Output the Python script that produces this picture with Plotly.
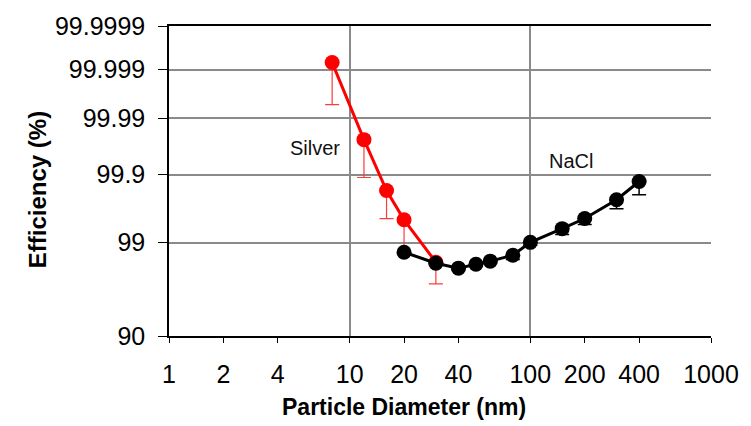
from statistics import NormalDist
import plotly.graph_objects as go

# ---- data (efficiency in %) ----
silver_d = [8, 12, 16, 20, 30]
silver_eff = [99.9993, 99.975, 99.82, 99.51, 98.25]
silver_low = [99.9946, 99.888, 99.53, 98.65, 96.9]

nacl_d = [20, 30, 40, 50, 60, 80, 100, 150, 200, 300, 400]
nacl_eff = [98.68, 98.20, 97.94, 98.15, 98.30, 98.56, 99.01, 99.35, 99.53, 99.75, 99.87]
nacl_low = [98.60, 98.12, 97.86, 98.07, 98.22, 98.38, 98.92, 99.22, 99.43, 99.66, 99.79]

x_ticks = [1, 2, 4, 10, 20, 40, 100, 200, 400, 1000]
y_ticks = [90, 99, 99.9, 99.99, 99.999, 99.9999]
y_ticktext = ["90", "99", "99.9", "99.99", "99.999", "99.9999"]

nd = NormalDist()


def probit(v):
    return nd.inv_cdf(v / 100.0)


def series(d, eff, low, color, ecolor, ethick):
    y = [probit(e) for e in eff]
    lo = [probit(e) - probit(l) for e, l in zip(eff, low)]
    return go.Scatter(
        x=d, y=y, mode="lines+markers",
        line=dict(color=color, width=3),
        marker=dict(color=color, size=15),
        error_y=dict(type="data", symmetric=False, array=[0] * len(d),
                     arrayminus=lo, color=ecolor, thickness=ethick, width=7),
        showlegend=False,
    )


fig = go.Figure()
fig.add_trace(series(silver_d, silver_eff, silver_low, "#ff0000", "#ff3a3a", 1.2))
fig.add_trace(series(nacl_d, nacl_eff, nacl_low, "#000000", "#000000", 1.5))

font = "Liberation Sans, Arial, sans-serif"

fig.update_layout(
    width=751, height=426,
    margin=dict(l=169, r=37, t=20, b=90),
    paper_bgcolor="white", plot_bgcolor="white",
    font=dict(family=font, size=25, color="#000"),
    xaxis=dict(
        type="log", range=[0, 3],
        tickvals=x_ticks, ticktext=[str(v) for v in x_ticks],
        showgrid=False, showline=True, linecolor="#000", linewidth=1.5,
        mirror=True, ticks="outside", ticklen=5, tickcolor="#000",
        ticklabelstandoff=10,
        minor=dict(tickvals=[10, 100, 1000], showgrid=True,
                   gridcolor="#8a8a8a", gridwidth=1.5, ticks=""),
        zeroline=False,
    ),
    yaxis=dict(
        range=[probit(90), probit(99.9999)],
        tickvals=[probit(v) for v in y_ticks], ticktext=y_ticktext,
        showgrid=True, gridcolor="#8a8a8a", gridwidth=1.5,
        showline=True, linecolor="#000", linewidth=1.5,
        ticks="outside", ticklen=9, tickcolor="#000",
        ticklabelstandoff=8, zeroline=False,
    ),
    annotations=[
        dict(text="Silver", xref="paper", yref="paper", x=0.269, y=0.606,
             xanchor="center", yanchor="middle",
             showarrow=False, font=dict(size=20, color="#111")),
        dict(text="NaCl", xref="paper", yref="paper", x=0.741, y=0.565,
             xanchor="center", yanchor="middle",
             showarrow=False, font=dict(size=20, color="#111")),
        dict(text="<b>Particle Diameter (nm)</b>", xref="paper", yref="paper",
             x=0.433, y=-0.229, xanchor="center", yanchor="middle",
             showarrow=False, font=dict(size=23)),
        dict(text="<b>Efficiency (%)</b>", xref="paper", yref="paper",
             x=-0.242, y=0.473, xanchor="center", yanchor="middle",
             showarrow=False, textangle=-90, font=dict(size=24)),
    ],
)

fig.write_html("out.html")
